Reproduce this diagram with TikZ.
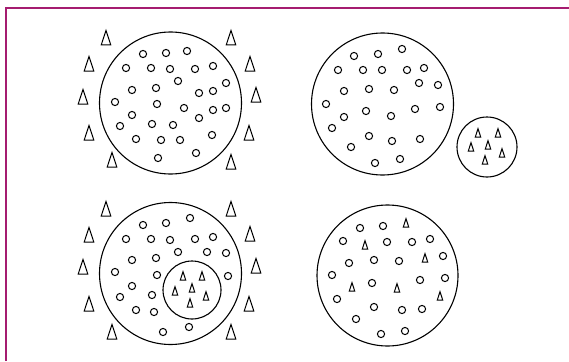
\documentclass[tikz,border=0pt]{standalone}
\definecolor{frame}{RGB}{165,28,112}
\tikzset{
  dot/.style={draw=black, line width=1pt},
  bigc/.style={draw=black, line width=1.1pt},
  tri/.style={draw=black, line width=1pt, line join=miter},
}
\newcommand{\bigtri}[2]{\draw[tri] ({#1-4.8},{#2+7}) -- ({#1},{#2-7.5}) -- ({#1+4.8},{#2+7}) -- cycle;}
\newcommand{\smalltri}[2]{\draw[tri] ({#1-2.7},{#2+4}) -- ({#1},{#2-4.3}) -- ({#1+2.7},{#2+4}) -- cycle;}
\begin{document}
\begin{tikzpicture}[x=1pt,y=-1pt]
\useasboundingbox (0,0) rectangle (569,361);
\fill[white] (0,0) rectangle (569,361);
\draw[frame, line width=1.3pt] (6,361) -- (6,8) -- (569,8);

% Panel 1
\draw[bigc] (170.5,103) circle (71);
\foreach \x/\y in {143/54,166/53,187/51,126/68,151/68,170/69,195/69,213/66,178/81,226/83,
  132/90,156/88,199/93,213/91,115/102,157/104,184/108,213/110,226/108,132/115,199/118,
  120/126,152/124,173/125,136/139,161/140,180/140,212/135,158/158,196/153}
  {\draw[dot] (\x,\y) circle (3.6);}
\foreach \x/\y in {106/38,89/64,83/97,89/133,112/160,231/38,250/64,256/95,249/133,231/162}
  {\bigtri{\x}{\y}}

% Panel 2
\draw[bigc] (382.5,104) circle (71);
\foreach \x/\y in {354/56,378/54,402/49,338/70,363/70,382/70,407/70,424/68,419/83,438/85,
  344/91,369/89,394/90,326/104,366/111,415/109,440/107,344/117,391/116,332/128,
  369/136,392/141,420/139,351/147,375/163,400/159}
  {\draw[dot] (\x,\y) circle (3.6);}
\draw[bigc] (487,147) circle (30);
\foreach \x/\y in {478/133,498/133,471/147,488/145,502/153,485/160}
  {\smalltri{\x}{\y}}

% Panel 3
\draw[bigc] (170.5,273.5) circle (71);
\foreach \x/\y in {143/225,166/223,190/218,126/239,151/239,170/240,195/239,213/237,178/252,
  207/252,226/253,132/260,156/258,115/272,157/275,228/276,132/286,120/297,152/295,
  136/310,154/312,163/332,189/327}
  {\draw[dot] (\x,\y) circle (3.6);}
\foreach \x/\y in {106/209,89/235,83/267,89/304,112/332,231/209,250/234,256/266,249/304,231/332}
  {\bigtri{\x}{\y}}
\draw[bigc] (192,290) circle (29);
\foreach \x/\y in {183/276,202/276,175/291,192/288,206/296,190/303}
  {\smalltri{\x}{\y}}

% Panel 4
\draw[bigc] (387.5,275.5) circle (70.5);
\foreach \x/\y in {360/228,383/226,343/241,387/242,412/242,430/239,349/263,374/260,399/261,
  443/256,332/275,372/283,420/280,445/278,337/299,374/307,402/310,422/309,356/319,
  381/334,405/331}
  {\draw[dot] (\x,\y) circle (3.6);}
\foreach \x/\y in {406/223,365/245,425/258,352/287,397/288,440/296}
  {\smalltri{\x}{\y}}
\end{tikzpicture}
\end{document}
